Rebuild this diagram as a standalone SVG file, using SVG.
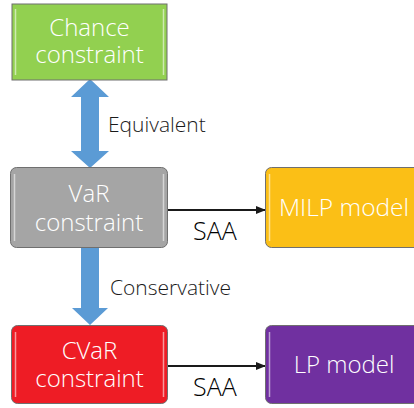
<svg xmlns="http://www.w3.org/2000/svg" width="414" height="408" viewBox="0 0 414 408">
<defs>
<marker id="ah" markerWidth="10" markerHeight="8" refX="9" refY="4" orient="auto" markerUnits="userSpaceOnUse">
<path d="M0,0 L10,4 L0,8 Z" fill="#1a1a1a"/>
</marker>
<style>
.box{stroke:#6f6f6f;stroke-width:1}
.hl{stroke:#ffffff;stroke-opacity:0.55;stroke-width:1.5;fill:none}
.bt{font-family:"Open Sans","Noto Sans","Liberation Sans",sans-serif;font-weight:300;font-size:24px;fill:#ffffff;text-anchor:middle}
.lb{font-family:"Open Sans","Noto Sans","Liberation Sans",sans-serif;font-weight:300;font-size:21px;fill:#1a1a1a}
.saa{font-family:"Open Sans","Noto Sans","Liberation Sans",sans-serif;font-weight:300;font-size:25px;fill:#000000}
.blue{fill:#5B9BD5}
.ln{stroke:#1a1a1a;stroke-width:2;fill:none}
</style>
</defs>
<rect width="414" height="408" fill="#ffffff"/>
<g id="connectors">
<polygon class="blue" points="90,79 109,97 99,97 99,151 109,151 90,168 71,151 81,151 81,97 71,97"/>
<polygon class="blue" points="81,248 99,248 99,308 108,308 90,325 72,308 81,308"/>
<line class="ln" x1="168" y1="210" x2="265" y2="210" marker-end="url(#ah)"/>
<line class="ln" x1="168" y1="366" x2="265" y2="366" marker-end="url(#ah)"/>
<text class="lb" x="108" y="132">Equivalent</text>
<text class="lb" x="110" y="295">Conservative</text>
<text class="saa" x="193" y="240">SAA</text>
<text class="saa" x="193" y="396">SAA</text>
</g>
<g id="chance">
<rect class="box" x="12" y="4" width="155" height="76" fill="#92D050"/>
<line class="hl" x1="15.5" y1="9" x2="15.5" y2="75"/>
<line class="hl" x1="163.5" y1="9" x2="163.5" y2="75"/>
<text class="bt"><tspan x="89.5" y="36">Chance</tspan><tspan x="89.5" y="63">constraint</tspan></text>
</g>
<g id="var">
<rect class="box" x="10.5" y="167.5" width="157" height="80" rx="6" fill="#A5A5A5"/>
<line class="hl" x1="14.5" y1="174" x2="14.5" y2="241"/>
<line class="hl" x1="163.5" y1="174" x2="163.5" y2="241"/>
<text class="bt"><tspan x="89" y="202">VaR</tspan><tspan x="89" y="231">constraint</tspan></text>
</g>
<g id="milp">
<rect class="box" x="265.5" y="167.5" width="157" height="80" rx="6" fill="#FBBF16"/>
<line class="hl" x1="269.5" y1="174" x2="269.5" y2="241"/>
<text class="bt" x="344" y="216" style="font-size:24.5px">MILP model</text>
</g>
<g id="cvar">
<rect class="box" x="11.5" y="325.5" width="156" height="78" rx="6" fill="#EE1C25"/>
<line class="hl" x1="15.5" y1="332" x2="15.5" y2="397"/>
<line class="hl" x1="163.5" y1="332" x2="163.5" y2="397"/>
<text class="bt"><tspan x="89.5" y="359">CVaR</tspan><tspan x="89.5" y="387">constraint</tspan></text>
</g>
<g id="lp">
<rect class="box" x="265.5" y="325.5" width="157" height="78" rx="6" fill="#7030A0"/>
<line class="hl" x1="269.5" y1="332" x2="269.5" y2="397"/>
<text class="bt" x="344" y="373">LP model</text>
</g>
</svg>
